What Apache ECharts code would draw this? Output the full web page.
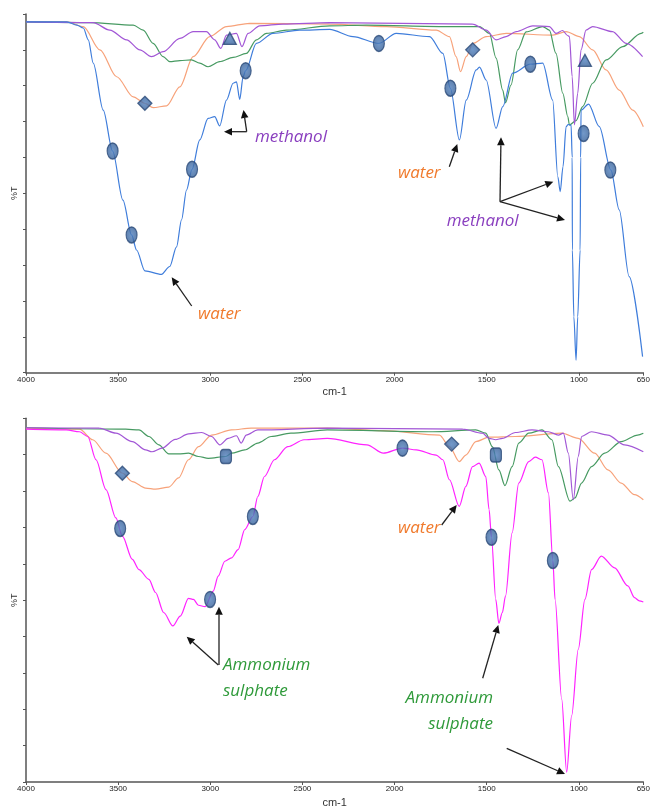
<!DOCTYPE html>
<html><head><meta charset="utf-8">
<script src="https://cdn.jsdelivr.net/npm/echarts@6/dist/echarts.min.js"></script>
<style>html,body{margin:0;padding:0;background:#fff}#c{width:653px;height:809px}</style>
</head><body><div id="c"></div>
<script>
// ---- tick labels ----
const xTicks = [4000, 3500, 3000, 2500, 2000, 1500, 1000, 650];

// ---- top panel spectra: [wavenumber cm-1, %T] ----
const topBlue = [[4000,97.8],[3778,97.8],[3724,96.9],[3689,96.1],[3662,92.8],[3635,86.3],[3581,73.2],[3530,61.8],[3474,48.1],[3427,38.4],[3400,34.2],[3355,28.4],[3265,27.4],[3220,29.6],[3183,35.1],[3156,42.6],[3129,50.9],[3099,56.7],[3057,64.9],[3012,70.9],[2976,71.4],[2949,68.8],[2912,76.0],[2876,80.7],[2858,81.1],[2840,76.2],[2822,82.5],[2808,84.2],[2750,91.8],[2660,94.6],[2515,95.5],[2352,95.7],[2226,93.7],[2085,91.8],[1991,94.6],[1810,93.7],[1738,89.0],[1697,79.3],[1648,64.9],[1611,76.0],[1557,84.4],[1539,85.2],[1503,81.6],[1449,68.1],[1413,74.2],[1359,83.5],[1263,86.0],[1196,86.3],[1142,76.0],[1114,54.6],[1101,50.5],[1086,57.4],[1069,68.6],[1058,69.2],[1042,69.0],[1036,60],[1035,34.2],[1027,15.6],[1015,3.5],[1006,15.6],[993,34.2],[990,60],[988,73.2],[947,74.9],[889,68.6],[826,56.5],[781,45.4],[727,26.8],[654,4.5]];
const topOrange = [[4000,97.8],[3779,97.8],[3689,96.5],[3599,90.0],[3508,82.5],[3418,76.9],[3355,75.1],[3310,73.9],[3237,74.4],[3165,79.7],[3093,88.1],[3003,93.7],[2912,96.5],[2786,97.4],[2352,97.2],[2045,96.5],[1774,95.5],[1702,93.7],[1666,88.1],[1642,83.9],[1611,88.1],[1575,91.8],[1503,93.7],[1394,94.6],[1142,94.1],[1069,95.1],[997,93.7],[925,90.0],[852,84.4],[781,78.8],[708,73.2],[650,68.6]];
const topGreen = [[4000,97.8],[3653,97.6],[3418,96.9],[3364,95.5],[3310,91.8],[3256,88.1],[3220,86.7],[3165,87.0],[3102,87.2],[3057,86.3],[3012,85.3],[2949,86.7],[2876,87.9],[2804,89.0],[2750,92.8],[2695,94.6],[2587,95.5],[2352,96.7],[2153,96.9],[1720,96.5],[1539,96.5],[1485,94.6],[1449,87.7],[1413,78.8],[1398,75.2],[1368,80.2],[1332,90.0],[1286,95.0],[1196,96.5],[1160,95.5],[1124,89.0],[1087,77.9],[1060,71.4],[1051,69.1],[1015,70.3],[979,74.2],[925,80.7],[852,87.2],[762,90.9],[662,94.6],[650,94.9]];
const topPurple = [[4000,97.8],[3635,97.6],[3545,95.5],[3454,92.8],[3382,90.0],[3319,88.1],[3256,89.5],[3165,93.2],[3093,95.1],[3021,95.1],[2976,92.8],[2943,90.4],[2912,94.1],[2858,94.6],[2828,90.9],[2795,94.6],[2732,96.7],[2605,97.2],[2352,97.6],[1576,97.2],[1503,95.5],[1449,92.8],[1395,93.7],[1340,95.1],[1250,96.7],[1160,96.5],[1124,94.6],[1088,95.4],[1061,94.0],[1051,93.7],[1036,82.5],[1024,69.1],[1006,77.9],[988,90.0],[961,95.5],[925,96.5],[817,95.1],[744,91.8],[654,88.1]];
const topCircles = [[3530,61.8],[3427,38.4],[3099,56.7],[2808,84.2],[2085,91.8],[1697,79.3],[1263,86.0],[974,66.7],[829,56.5]];
const topDiamonds = [[3355,75.1],[1576,90.0]];
const topTriangles = [[2894,93.2],[967,87.1]];

// ---- bottom panel spectra ----
const botMagenta = [[4000,97.0],[3781,96.8],[3710,96.3],[3665,95.0],[3620,88.6],[3566,80.4],[3512,72.6],[3477,67.6],[3423,61.2],[3387,58.4],[3333,55.7],[3297,52.1],[3253,46.6],[3203,42.9],[3163,45.6],[3118,50.5],[3091,50.2],[3064,48.6],[3028,48.2],[2984,52.5],[2957,56.6],[2921,60.7],[2885,61.6],[2849,63.9],[2813,69.4],[2769,73.0],[2742,78.5],[2706,84.0],[2652,88.6],[2580,92.2],[2491,94.1],[2365,94.5],[2150,92.7],[2061,90.4],[1957,91.8],[1882,91.3],[1774,89.9],[1738,88.6],[1702,83.1],[1649,75.8],[1613,81.3],[1577,86.7],[1541,87.7],[1505,84.0],[1487,74.9],[1474,67.3],[1451,50.2],[1434,43.6],[1415,46.6],[1398,51.1],[1362,68.5],[1326,82.2],[1272,88.1],[1236,89.3],[1200,88.6],[1165,79.5],[1141,60.9],[1129,50.2],[1093,22.8],[1066,2.7],[1039,18.2],[1003,36.5],[967,50.2],[931,58.4],[878,62.1],[806,58.9],[734,53.9],[698,50.7],[672,49.8],[650,49.5]];
const botOrange = [[4000,97.3],[3710,97.0],[3638,94.1],[3566,90.4],[3477,84.9],[3423,82.6],[3351,80.8],[3297,80.5],[3225,81.1],[3172,83.6],[3118,88.6],[3064,92.2],[2993,95.4],[2885,96.8],[2778,97.3],[2365,97.3],[2061,96.6],[1756,95.4],[1702,92.2],[1649,88.1],[1613,89.9],[1559,93.6],[1487,94.8],[1344,95.0],[1093,95.9],[1003,94.5],[914,90.4],[842,85.8],[770,82.2],[698,79.0],[650,77.6]];
const botGreen = [[4000,97.4],[3459,97.0],[3387,96.8],[3333,95.0],[3279,92.7],[3225,90.2],[3172,90.2],[3118,90.4],[3064,89.5],[3011,89.0],[2915,89.5],[2885,90.4],[2813,91.3],[2742,93.2],[2670,95.0],[2563,95.9],[2365,96.8],[1792,96.3],[1559,96.8],[1505,95.9],[1469,92.2],[1434,85.8],[1401,81.5],[1362,86.7],[1326,93.2],[1272,95.9],[1200,96.8],[1146,94.1],[1111,86.7],[1048,77.2],[1021,78.1],[985,82.2],[931,86.7],[860,90.4],[770,93.6],[681,95.4],[650,95.9]];
const botPurple = [[4000,97.4],[3602,97.3],[3512,95.9],[3423,93.6],[3351,91.3],[3316,90.8],[3262,91.8],[3190,94.2],[3118,95.7],[3047,96.1],[2993,95.0],[2948,92.7],[2903,94.5],[2858,95.2],[2832,93.2],[2805,95.4],[2742,96.8],[2365,97.3],[1630,97.0],[1523,95.9],[1487,94.5],[1451,94.1],[1415,94.5],[1344,96.1],[1254,96.8],[1165,96.3],[1111,95.4],[1084,95.9],[1057,90.4],[1030,77.6],[1003,89.5],[985,95.0],[931,96.3],[842,95.4],[752,92.7],[650,90.8]];
const botCircles = [[3489,69.7],[3001,50.2],[2769,73.0],[1957,91.8],[1474,67.3],[1141,60.9]];
const botDiamonds = [[3477,84.9],[1690,92.9]];
const botSquares = [[2915,89.5],[1450,89.9]];

// ---- styling ----
const C = {blue:'#3f7ddb', magenta:'#ff22ff', orange:'#f7a27a', green:'#479a62', purple:'#a257d6'};
const ELLIPSE = 'path://M50,0 A50,50 0 1,1 50,100 A50,50 0 1,1 50,0 Z';
const markerStyle = {
  color:{type:'radial',x:0.5,y:0.5,r:0.6,colorStops:[{offset:0,color:'#4f7fbd'},{offset:1,color:'#31598f'}]},
  borderColor:'#2a4a78', borderWidth:1.3
};

function lineSeries(data, color, gi, z){
  return {type:'line', data, xAxisIndex:gi, yAxisIndex:gi, showSymbol:false, symbol:'none',
    smooth:0.3, smoothMonotone:'x', lineStyle:{color, width:1.2}, z:z||2, silent:true, animation:false};
}
function markers(data, symbol, size, gi){
  return {type:'scatter', data, xAxisIndex:gi, yAxisIndex:gi, symbol, symbolSize:size,
    itemStyle:markerStyle, z:10, silent:true, animation:false};
}
function xAx(gi, gap){
  return {gridIndex:gi, type:'value', min:650, max:4000, inverse:true,
    axisLine:{show:true, onZero:false, lineStyle:{color:'#555', width:1.5}},
    axisTick:{show:true, customValues:xTicks, length:3, lineStyle:{color:'#555'}},
    axisLabel:{customValues:xTicks, fontSize:8, color:'#222', margin:3, fontFamily:'Liberation Sans',
      formatter:(v)=>String(v)},
    splitLine:{show:false},
    name:'cm-1', nameLocation:'middle', nameGap:gap,
    nameTextStyle:{fontSize:11, color:'#333', fontFamily:'Liberation Sans'}};
}
function yAx(gi){
  return {gridIndex:gi, type:'value', min:0, max:100, interval:10,
    axisLine:{show:true, lineStyle:{color:'#555', width:1.5}},
    axisTick:{show:true, length:3, lineStyle:{color:'#555'}},
    axisLabel:{show:false}, splitLine:{show:false},
    name:'%T', nameLocation:'middle', nameGap:7, nameRotate:90,
    nameTextStyle:{fontSize:9, color:'#333', fontFamily:'Liberation Sans'}};
}

// ---- annotations ----
function arrow(x1,y1,x2,y2){
  const a=Math.atan2(y2-y1,x2-x1), L=8, W=3.8;
  const bx=x2-L*Math.cos(a), by=y2-L*Math.sin(a);
  const px=-Math.sin(a)*W, py=Math.cos(a)*W;
  return [
    {type:'line', shape:{x1,y1,x2:bx,y2:by}, style:{stroke:'#222', lineWidth:1.3}, z:20},
    {type:'polygon', shape:{points:[[x2,y2],[bx+px,by+py],[bx-px,by-py]]}, style:{fill:'#111'}, z:20}
  ];
}
function label(text, x, y, color, align){
  return {type:'text', x, y, z:20, style:{text, fill:color, font:'italic 17px "Open Sans"',
    align:align||'left', verticalAlign:'middle'}};
}
const TXT = {orange:'#f07a2c', purple:'#8a3fbf', green:'#2f9a3a'};
const graphics = [
  label('methanol',255,137,TXT.purple),
  ...arrow(246.7,131.7,243.5,110), ...arrow(246.7,131.7,224,131.7),
  label('water',198,314,TXT.orange), ...arrow(191.7,306,171.7,277.3),
  label('water',398,173,TXT.orange), ...arrow(449.3,166.7,457.3,144),
  label('methanol',446.7,221,TXT.purple),
  ...arrow(500,201.7,501,137.3), ...arrow(500,201.7,553.3,181.7), ...arrow(500,201.7,565,220),
  label('water',398,528,TXT.orange), ...arrow(441.7,525,456.7,505),
  label('Ammonium',223,665,TXT.green), label('sulphate',223,691,TXT.green),
  ...arrow(219,665,219,606.7), ...arrow(218.3,665,186.7,636.7),
  label('Ammonium',493,698,TXT.green,'right'), label('sulphate',493,724,TXT.green,'right'),
  ...arrow(482.7,678.3,498.3,625), ...arrow(506.7,748.3,565,774)
];

const chart = echarts.init(document.getElementById('c'), null, {renderer:'canvas'});
chart.setOption({
  backgroundColor:'#fff', animation:false,
  grid:[{left:26, right:9, top:14, height:358.7},{left:26, right:4, top:418.3, height:365}],
  xAxis:[xAx(0,14), xAx(1,15)],
  yAxis:[yAx(0), yAx(1)],
  series:[
    lineSeries(topOrange,C.orange,0), lineSeries(topGreen,C.green,0), lineSeries(topPurple,C.purple,0), lineSeries(topBlue,C.blue,0,3),
    markers(topCircles,ELLIPSE,[11,16],0), markers(topDiamonds,'diamond',[14,14],0), markers(topTriangles,'triangle',[13,12],0),
    lineSeries(botOrange,C.orange,1), lineSeries(botGreen,C.green,1), lineSeries(botPurple,C.purple,1), lineSeries(botMagenta,C.magenta,1,3),
    markers(botCircles,ELLIPSE,[11,16],1), markers(botDiamonds,'diamond',[14,14],1), markers(botSquares,'roundRect',[11,14],1)
  ],
  graphic: graphics
});
</script></body></html>
